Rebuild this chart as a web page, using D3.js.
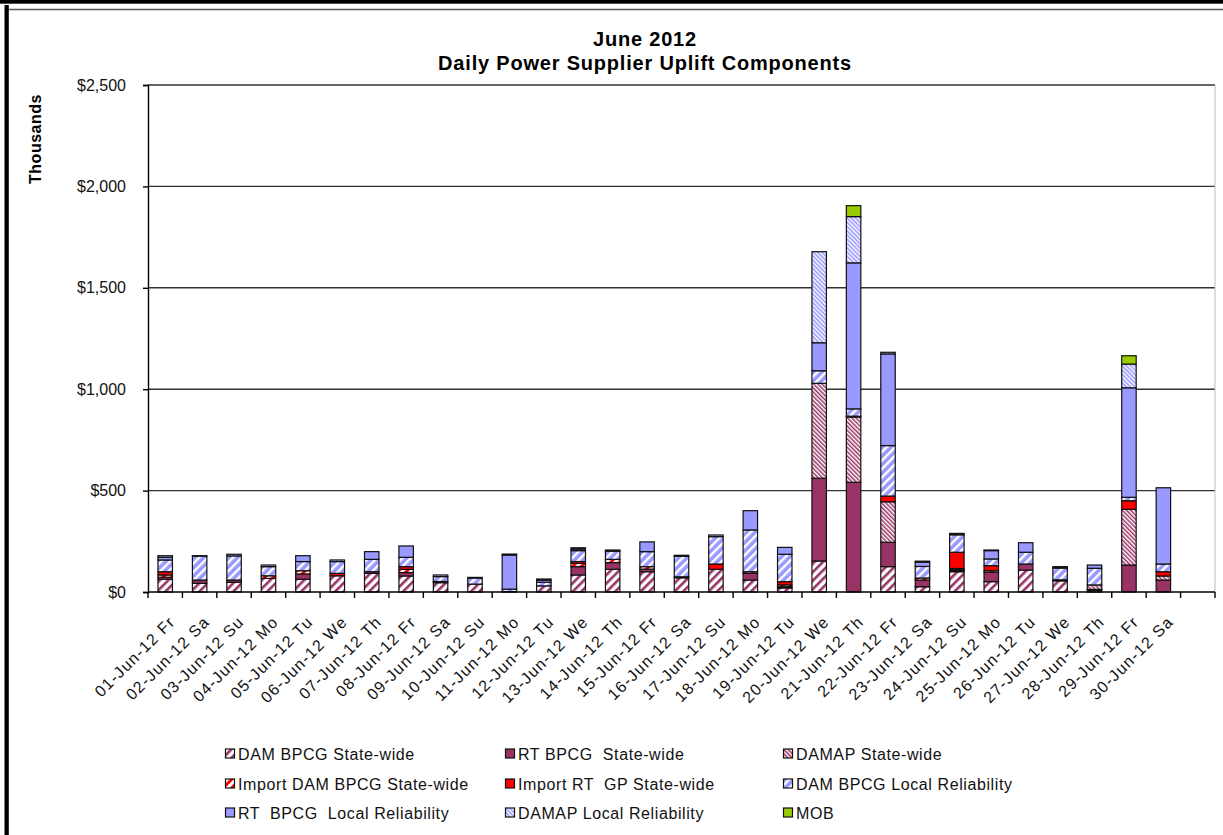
<!DOCTYPE html>
<html>
<head>
<meta charset="utf-8">
<script src="https://cdn.jsdelivr.net/npm/d3@7/dist/d3.min.js"></script>
<style>
  body { margin: 0; background: #fff; }
  svg { display: block; font-family: Arial, "Liberation Sans", sans-serif; }
</style>
</head>
<body>
<script>
// day labels (31st slot of the template is left empty)
var days = ['01-Jun-12 Fr','02-Jun-12 Sa','03-Jun-12 Su','04-Jun-12 Mo','05-Jun-12 Tu','06-Jun-12 We',
  '07-Jun-12 Th','08-Jun-12 Fr','09-Jun-12 Sa','10-Jun-12 Su','11-Jun-12 Mo','12-Jun-12 Tu','13-Jun-12 We',
  '14-Jun-12 Th','15-Jun-12 Fr','16-Jun-12 Sa','17-Jun-12 Su','18-Jun-12 Mo','19-Jun-12 Tu','20-Jun-12 We',
  '21-Jun-12 Th','22-Jun-12 Fr','23-Jun-12 Sa','24-Jun-12 Su','25-Jun-12 Mo','26-Jun-12 Tu','27-Jun-12 We',
  '28-Jun-12 Th','29-Jun-12 Fr','30-Jun-12 Sa', '']

// values in $ thousands
var damBpcgSW   = [63,43,48,67,63,80,92,79,46,39,2,30,84,112,100,70,112,59,20,153,0,125,26,100,51,108,55,8,0,0,0]
var rtBpcgSW    = [10,16,11,0,26,0,8,17,6,0,0,0,41,33,13,5,0,33,6,408,541,120,33,6,46,30,5,5,133,59,0]
var damapSW     = [0,0,0,0,0,0,0,0,0,0,0,0,0,0,0,0,0,0,0,468,322,200,0,6,0,0,0,22,275,20,0]
var importDam   = [11,0,0,13,16,0,0,16,0,0,0,0,16,16,12,0,0,8,9,0,4,0,10,4,8,0,0,0,0,0,0]
var importRtGp  = [16,0,0,0,0,12,0,13,0,0,0,0,9,0,0,0,26,0,16,0,0,28,0,80,25,0,0,0,42,21,0]
var damBpcgLR   = [58,118,119,45,45,58,61,46,24,30,12,18,54,40,74,101,135,206,135,62,36,249,57,86,33,58,58,82,17,38,0]
var rtBpcgLR    = [13,0,0,0,29,0,38,56,0,0,168,10,8,0,48,0,0,95,34,138,720,452,21,3,41,47,3,16,540,376,0]
var damapLR     = [8,2,8,8,0,8,0,0,8,3,5,6,6,6,0,5,8,0,0,449,228,8,5,4,3,0,4,0,117,0,0]
var mob         = [0,0,0,0,0,0,0,0,0,0,0,0,0,0,0,0,0,0,0,0,54,0,0,0,0,0,0,0,41,0,0]

var seriesNames = ['DAM BPCG State-wide','RT BPCG  State-wide','DAMAP State-wide',
  'Import DAM BPCG State-wide','Import RT  GP State-wide','DAM BPCG Local Reliability',
  'RT  BPCG  Local Reliability','DAMAP Local Reliability','MOB']
var seriesValues = [damBpcgSW, rtBpcgSW, damapSW, importDam, importRtGp, damBpcgLR, rtBpcgLR, damapLR, mob]
var seriesFills = ['url(#p-dam-sw)','#993366','url(#p-damap-sw)','url(#p-imp-dam)','#ff0000',
  'url(#p-dam-lr)','#9999ff','url(#p-damap-lr)','#99cc00']
var yTicks = [0,500,1000,1500,2000,2500]

var W = 1223, H = 835
var plotL = 148, plotR = 1215, plotT = 85, plotB = 592

var svg = d3.select('body').append('svg').attr('width', W).attr('height', H)

// frame
svg.append('rect').attr('x',0).attr('y',0).attr('width',W).attr('height',3.7).attr('fill','#000')
svg.append('rect').attr('x',4.5).attr('y',5).attr('width',4.3).attr('height',H).attr('fill','#000')
svg.append('line').attr('x1',9).attr('x2',W).attr('y1',9.5).attr('y2',9.5).attr('stroke','#555').attr('stroke-width',1.5)

// patterns
var defs = svg.append('defs')
function stripes(id, bg, fg, period, w, angle){
  var p = defs.append('pattern').attr('id', id).attr('patternUnits','userSpaceOnUse')
    .attr('width', period).attr('height', period).attr('patternTransform','rotate(' + angle + ')')
  p.append('rect').attr('width', period).attr('height', period).attr('fill', bg)
  p.append('rect').attr('width', w).attr('height', period).attr('fill', fg)
}
stripes('p-dam-sw', '#fff', '#993366', 6, 2.6, 45)
stripes('p-damap-sw', '#fff', '#993366', 3, 1.5, -45)
stripes('p-imp-dam', '#fff', '#ff0000', 6, 3, 45)
stripes('p-dam-lr', '#9999ff', '#fff', 6, 2.4, 45)
stripes('p-damap-lr', '#fff', '#9999ff', 3, 1.6, -45)

var x = d3.scaleBand().domain(d3.range(days.length)).range([plotL, plotR])
var y = d3.scaleLinear().domain([0, 2500]).range([plotB, plotT])

// title
svg.append('text').attr('x', 645).attr('y', 46).attr('text-anchor','middle')
  .style('font-size','20px').style('font-weight','bold').style('letter-spacing','0.8px').text('June 2012')
svg.append('text').attr('x', 645).attr('y', 70).attr('text-anchor','middle')
  .style('font-size','20px').style('font-weight','bold').style('letter-spacing','0.8px')
  .text('Daily Power Supplier Uplift Components')

// y label
svg.append('text').attr('transform','translate(41,139) rotate(-90)').attr('text-anchor','middle')
  .style('font-size','16px').style('font-weight','bold').style('letter-spacing','0.5px').text('Thousands')

// gridlines
svg.append('g').selectAll('line').data(yTicks.filter(function(d){ return d > 0 })).enter().append('line')
  .attr('x1', plotL).attr('x2', plotR)
  .attr('y1', function(d){ return y(d) }).attr('y2', function(d){ return y(d) })
  .attr('stroke','#333').attr('stroke-width',1.4)
svg.append('line').attr('x1', plotR).attr('x2', plotR).attr('y1', plotT).attr('y2', plotB)
  .attr('stroke','#bbb').attr('stroke-width',1)

// y axis
var yAxis = svg.append('g').attr('transform','translate(' + plotL + ',0)')
  .call(d3.axisLeft(y).tickValues(yTicks).tickSize(5).tickPadding(17)
    .tickFormat(function(d){ return '$' + d3.format(',')(d) }))
yAxis.select('.domain').attr('stroke','#000').attr('stroke-width',1.4)
yAxis.selectAll('.tick line').attr('stroke','#000').attr('stroke-width',1.4)
yAxis.selectAll('text').style('font-size','16px').attr('fill','#111').attr('font-family','Arial, Liberation Sans, sans-serif')

// stacked bars
var stackData = d3.range(days.length).map(function(i){
  var row = { i: i }
  seriesValues.forEach(function(s, k){ row['s' + k] = s[i] })
  return row
})
var keys = seriesValues.map(function(s, k){ return 's' + k })
var stacked = d3.stack().keys(keys)(stackData)

var barW = x.bandwidth() * 0.42
svg.append('g').selectAll('g').data(stacked).enter().append('g')
  .attr('fill', function(d, k){ return seriesFills[k] })
  .selectAll('rect').data(function(d){ return d.filter(function(v){ return v[1] - v[0] > 0 }) })
  .enter().append('rect')
  .attr('x', function(v){ return x(v.data.i) + (x.bandwidth() - barW) / 2 })
  .attr('width', barW)
  .attr('y', function(v){ return y(v[1]) })
  .attr('height', function(v){ return y(v[0]) - y(v[1]) })
  .attr('stroke','#111').attr('stroke-width',1.2)

// x axis
var xAxis = svg.append('g').attr('transform','translate(0,' + plotB + ')')
xAxis.append('line').attr('x1', plotL).attr('x2', plotR).attr('stroke','#000').attr('stroke-width',1.4)
xAxis.selectAll('.tk').data(d3.range(days.length + 1)).enter().append('line')
  .attr('x1', function(i){ return plotL + i * x.step() }).attr('x2', function(i){ return plotL + i * x.step() })
  .attr('y1', 0).attr('y2', 6).attr('stroke','#000').attr('stroke-width',1.4)
xAxis.selectAll('text').data(days).enter().append('text')
  .attr('transform', function(d, i){ return 'translate(' + (x(i) + x.bandwidth() / 2 + 7) + ',27) rotate(-45)' })
  .attr('text-anchor','end').attr('dy','0.35em')
  .style('font-size','16px').style('letter-spacing','1.2px').attr('fill','#111')
  .text(function(d){ return d })

// legend
var legCols = [225, 505, 783], legRows = [754, 784, 813]
var leg = svg.append('g').selectAll('g').data(seriesNames).enter().append('g')
  .attr('transform', function(d, k){ return 'translate(' + legCols[k % 3] + ',' + legRows[Math.floor(k / 3)] + ')' })
leg.append('rect').attr('x', 0.5).attr('y', -5).attr('width', 9).attr('height', 9)
  .attr('fill', function(d, k){ return seriesFills[k] }).attr('stroke','#111').attr('stroke-width',1.2)
leg.append('text').attr('x', 13).attr('dy','0.35em')
  .style('font-size','16px').style('letter-spacing','0.6px').style('white-space','pre').attr('fill','#111')
  .text(function(d){ return d })
</script>
</body>
</html>
